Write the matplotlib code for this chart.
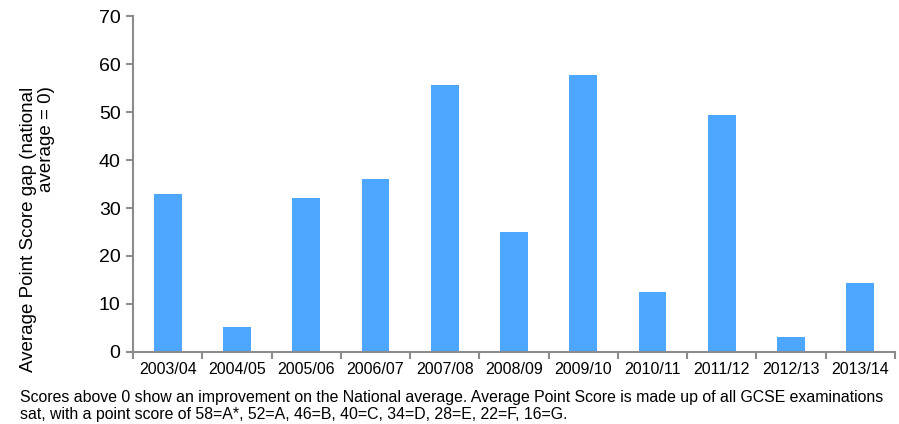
"""Average Point Score gap vs national average, 2003/04 to 2013/14."""
import matplotlib
matplotlib.use("Agg")
import matplotlib.pyplot as plt
import numpy as np

plt.rcParams["font.family"] = ["Liberation Sans", "DejaVu Sans"]

years = ["2003/04", "2004/05", "2005/06", "2006/07", "2007/08", "2008/09",
         "2009/10", "2010/11", "2011/12", "2012/13", "2013/14"]
gap = [33.0, 5.2, 32.1, 36.0, 55.6, 25.0, 57.7, 12.5, 49.4, 3.1, 14.4]

BAR_COLOR = "#4DA6FF"
AXIS_COLOR = "#8C8C8C"

fig = plt.figure(figsize=(8.99, 4.24), dpi=100)
ax = fig.add_axes([0.148, 0.170, 0.8475, 0.792])

x = np.arange(len(years))
ax.bar(x, gap, width=0.4, color=BAR_COLOR)

ax.set_xlim(-0.5, len(years) - 0.5)
ax.set_ylim(0, 70)
ax.set_yticks(range(0, 71, 10))
ax.set_xticks(x)
ax.set_xticklabels(years, fontsize=11.5)
ax.set_xticks(np.arange(-0.5, len(years)), minor=True)
ax.tick_params(axis="x", which="major", length=0, pad=7)
ax.tick_params(axis="x", which="minor", length=5, color=AXIS_COLOR, width=1.5)
ax.tick_params(axis="y", length=5, color=AXIS_COLOR, width=1.5, labelsize=14, pad=4)

for side in ("top", "right"):
    ax.spines[side].set_visible(False)
for side in ("left", "bottom"):
    ax.spines[side].set_color(AXIS_COLOR)
    ax.spines[side].set_linewidth(1.5)

# y label: two lines, right-aligned so both end at the same height
fig.text(0.042, 0.46, "Average Point Score gap (national\naverage = 0)",
         rotation=90, fontsize=13.5, ha="center", va="center",
         multialignment="right", linespacing=1.1)

fig.text(0.022, 0.081,
         "Scores above 0 show an improvement on the National average. Average Point Score is made up of all GCSE examinations\n"
         "sat, with a point score of 58=A*, 52=A, 46=B, 40=C, 34=D, 28=E, 22=F, 16=G.",
         fontsize=11.4, ha="left", va="top", linespacing=1.2)

fig.savefig("out.png", dpi=100)
